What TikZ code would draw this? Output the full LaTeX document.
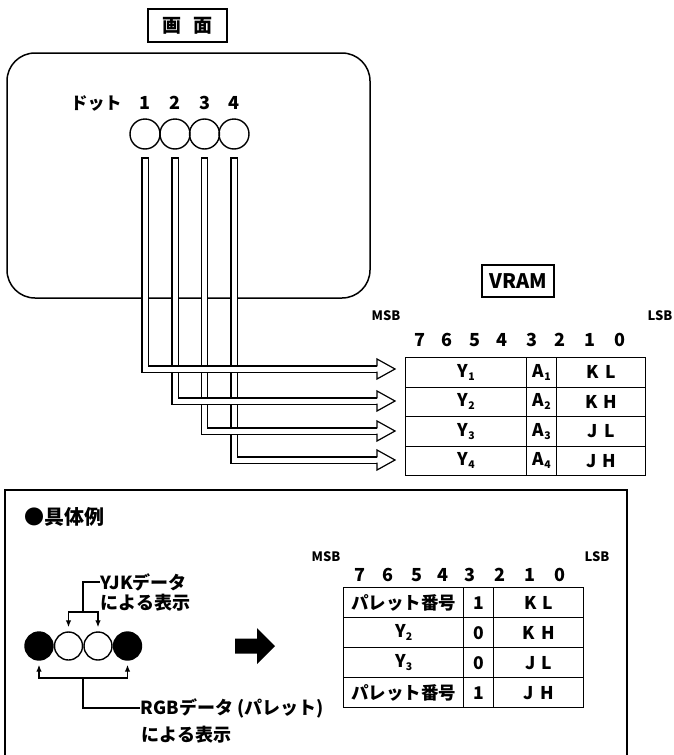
\documentclass[tikz,border=0pt]{standalone}
\usepackage{fontspec}
\setmainfont{Noto Sans CJK JP}
\usetikzlibrary{arrows.meta}
\newcommand{\mysub}[1]{\raisebox{-3pt}{\fontsize{10.5}{10.5}\selectfont #1}}
\begin{document}
\begin{tikzpicture}[x=1pt,y=-1pt,line width=1.3pt,
  txt/.style={font=\bfseries\fontsize{#1}{#1}\selectfont, inner sep=0pt},
  txt/.default=16,
  cell/.style={draw, line width=1.4pt, minimum height=29.5pt, inner sep=0pt, anchor=north west, font=\bfseries\fontsize{17.5}{17.5}\selectfont},
  pipe/.style={line width=1.2pt, double=white, double distance=5pt, line cap=rect},
  dot/.style={circle, draw, line width=1.4pt, minimum size=30pt, inner sep=0pt},
  sdot/.style={circle, draw, line width=1.4pt, minimum size=28pt, inner sep=0pt},
  boxlbl/.style={draw, line width=1.4pt, inner sep=0pt},
  tip/.style={-{Latex[length=7pt,width=5.5pt]}, line width=1.3pt}
]
\useasboundingbox (0,0) rectangle (673,755);

% ---------- screen ----------
\node[boxlbl, minimum width=79pt, minimum height=33pt, txt=19] (gamen) at (187.5,25.5) {画\hspace{12pt}面};
\draw[line width=1.5pt, rounded corners=28pt] (7,53) rectangle (370,298);
\node[txt=17] (dotlbl) at (96,103) {ドット};
\node[txt=18] (n1) at (145,103) {1};
\node[txt=18] (n2) at (175,103) {2};
\node[txt=18] (n3) at (204.5,103) {3};
\node[txt=18] (n4) at (234,103) {4};
\node[dot] (d1) at (145,134) {};
\node[dot] (d2) at (175,134) {};
\node[dot] (d3) at (204.5,134) {};
\node[dot] (d4) at (234,134) {};

% ---------- VRAM ----------
\node[boxlbl, minimum width=72pt, minimum height=32pt, txt=20] (vram) at (518,281) {VRAM};
\node[txt=13] (msb1) at (386,316) {MSB};
\node[txt=13] (lsb1) at (660,316) {LSB};
\foreach \b/\x in {7/420,6/447,5/475,4/502,3/532,2/560,1/590,0/620}
  \node[txt=18] (tb\b) at (\x,340) {\b};

\node[cell, minimum width=121pt] (y1) at (405,357) {Y\mysub{1}};
\node[cell, minimum width=30pt] (a1) at (526,357) {A\mysub{1}};
\node[cell, minimum width=89pt] (k1) at (556,357) {K\hspace{6pt}L};
\node[cell, minimum width=121pt] (y2) at (405,386.5) {Y\mysub{2}};
\node[cell, minimum width=30pt] (a2) at (526,386.5) {A\mysub{2}};
\node[cell, minimum width=89pt] (k2) at (556,386.5) {K\hspace{6pt}H};
\node[cell, minimum width=121pt] (y3) at (405,416) {Y\mysub{3}};
\node[cell, minimum width=30pt] (a3) at (526,416) {A\mysub{3}};
\node[cell, minimum width=89pt] (k3) at (556,416) {J\hspace{6pt}L};
\node[cell, minimum width=121pt] (y4) at (405,445.5) {Y\mysub{4}};
\node[cell, minimum width=30pt] (a4) at (526,445.5) {A\mysub{4}};
\node[cell, minimum width=89pt] (k4) at (556,445.5) {J\hspace{6pt}H};

% ---------- pipes ----------
\coordinate (t1) at (145,161);   \coordinate (e1) at (377,369);
\coordinate (t2) at (175,161);   \coordinate (e2) at (377,401);
\coordinate (t3) at (204.5,161); \coordinate (e3) at (377,431);
\coordinate (t4) at (234,161);   \coordinate (e4) at (377,460);
\foreach \i in {4,3,2,1} {
  \draw[pipe] (t\i) |- (e\i);
  \filldraw[fill=white, line width=1.2pt]
    ([yshift=-2.6pt]e\i) -- ([yshift=-10pt]e\i) -- ([xshift=18pt]e\i) -- ([yshift=10pt]e\i) -- ([yshift=2.6pt]e\i);
}

% ---------- example ----------
\draw[line width=1.4pt] (5,757) -- (5,490) -- (627,490) -- (627,757);
\node[txt=20, anchor=west] (gutai) at (24,517) {●具体例};

\node[txt=18, anchor=west] (yjk) at (100,582) {YJKデータ};
\node[txt=18, anchor=west] (yjk2) at (100,603) {による表示};
\node[sdot, fill=black] (c1) at (39,646) {};
\node[sdot] (c2) at (68.5,646) {};
\node[sdot] (c3) at (98,646) {};
\node[sdot, fill=black] (c4) at (127.5,646) {};
\coordinate (yb) at (83,612);
\draw (yjk.west) -| (yb);
\draw[tip, shorten >=4pt] (yb) -| (c2.north);
\draw[tip, shorten >=4pt] (yb) -| (c3.north);

\node[txt=18, anchor=west] (rgb) at (140,708) {RGBデータ\hspace{4pt}(パレット)};
\node[txt=18, anchor=west] (rgb2) at (141,735) {による表示};
\coordinate (rb) at (83,678);
\draw (rgb.west) -| (rb);
\draw[tip, shorten >=4pt] (rb) -| (c1.south);
\draw[tip, shorten >=4pt] (rb) -| (c4.south);

\fill (235,638.5) -- (257,638.5) -- (257,628) -- (275,646) -- (257,664) -- (257,653.5) -- (235,653.5) -- cycle;

\node[txt=13] (msb2) at (326,557) {MSB};
\node[txt=13] (lsb2) at (597,557) {LSB};
\foreach \b/\x in {7/360,6/388,5/417,4/443,3/470,2/500,1/530,0/560}
  \node[txt=18] (bb\b) at (\x,575) {\b};

\node[cell, minimum width=120pt, minimum height=30pt] (p1) at (343,587) {パレット番号};
\node[cell, minimum width=30pt, minimum height=30pt] (q1) at (463,587) {1};
\node[cell, minimum width=90pt, minimum height=30pt] (s1) at (493,587) {K\hspace{6pt}L};
\node[cell, minimum width=120pt, minimum height=30pt] (p2) at (343,617) {Y\mysub{2}};
\node[cell, minimum width=30pt, minimum height=30pt] (q2) at (463,617) {0};
\node[cell, minimum width=90pt, minimum height=30pt] (s2) at (493,617) {K\hspace{6pt}H};
\node[cell, minimum width=120pt, minimum height=30pt] (p3) at (343,647) {Y\mysub{3}};
\node[cell, minimum width=30pt, minimum height=30pt] (q3) at (463,647) {0};
\node[cell, minimum width=90pt, minimum height=30pt] (s3) at (493,647) {J\hspace{6pt}L};
\node[cell, minimum width=120pt, minimum height=30pt] (p4) at (343,677) {パレット番号};
\node[cell, minimum width=30pt, minimum height=30pt] (q4) at (463,677) {1};
\node[cell, minimum width=90pt, minimum height=30pt] (s4) at (493,677) {J\hspace{6pt}H};
\end{tikzpicture}
\end{document}
